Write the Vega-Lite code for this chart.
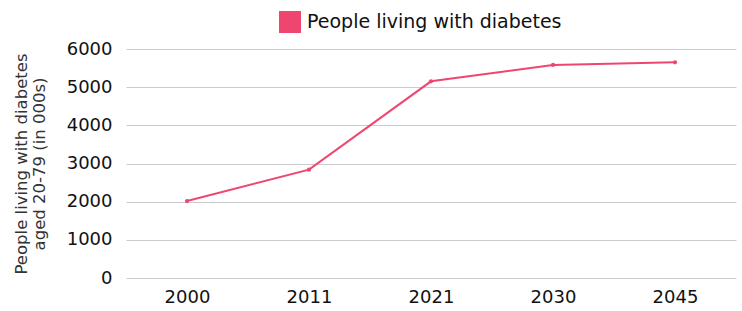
{
  "$schema": "https://vega.github.io/schema/vega-lite/v6.json",
  "width": 610,
  "height": 229,
  "autosize": {"type": "none"},
  "padding": {"left": 126, "top": 49, "right": 6, "bottom": 33},
  "background": "white",
  "data": {
    "values": [
      {"year": "2000", "value": 2017, "series": "People living with diabetes"},
      {"year": "2011", "value": 2838, "series": "People living with diabetes"},
      {"year": "2021", "value": 5153, "series": "People living with diabetes"},
      {"year": "2030", "value": 5581, "series": "People living with diabetes"},
      {"year": "2045", "value": 5651, "series": "People living with diabetes"}
    ]
  },
  "mark": {"type": "line", "strokeWidth": 2, "point": {"filled": true, "size": 18}},
  "encoding": {
    "x": {
      "field": "year",
      "type": "ordinal",
      "scale": {"type": "point", "padding": 0.5},
      "axis": {
        "title": null,
        "labelAngle": 0,
        "domain": false,
        "ticks": false,
        "grid": false,
        "labelFont": "DejaVu Sans",
        "labelFontSize": 18,
        "labelColor": "#111",
        "labelPadding": 10
      }
    },
    "y": {
      "field": "value",
      "type": "quantitative",
      "scale": {"domain": [0, 6000]},
      "axis": {
        "values": [0, 1000, 2000, 3000, 4000, 5000, 6000],
        "format": "d",
        "title": ["People living with diabetes", "aged 20-79 (in 000s)"],
        "titleFont": "DejaVu Sans",
        "titleFontSize": 16.5,
        "titleFontWeight": "normal",
        "titleColor": "#333",
        "titlePadding": 19,
        "titleLineHeight": 18,
        "domain": false,
        "ticks": false,
        "gridColor": "#cccccc",
        "gridWidth": 1,
        "labelFont": "DejaVu Sans",
        "labelFontSize": 18,
        "labelColor": "#111",
        "labelPadding": 14
      }
    },
    "color": {
      "field": "series",
      "type": "nominal",
      "scale": {"range": ["#EF4670"]},
      "legend": {
        "title": null,
        "orient": "none",
        "legendX": 153,
        "legendY": -38,
        "symbolType": "square",
        "symbolSize": 484,
        "symbolStrokeWidth": 0,
        "symbolOpacity": 1,
        "labelFont": "DejaVu Sans",
        "labelFontSize": 19,
        "labelLimit": 0,
        "labelColor": "#111",
        "labelOffset": 6
      }
    }
  },
  "config": {"view": {"stroke": null}}
}
